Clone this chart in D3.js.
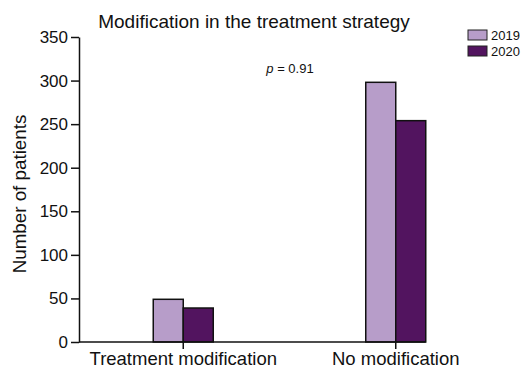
<!DOCTYPE html>
<html><head><meta charset="utf-8">
<script src="https://cdn.jsdelivr.net/npm/d3@7"></script>
<style>body{margin:0;background:#fff}svg{display:block}text{font-family:"Liberation Sans",Arial,sans-serif;fill:#111}</style>
</head><body><svg id="c" width="523" height="371"></svg>
<script>
const categories = ["Treatment modification", "No modification"];
const seriesNames = ["2019", "2020"];
const values2019 = [49, 298];
const values2020 = [39, 254];
const yTicks = [0, 50, 100, 150, 200, 250, 300, 350];
const colors = ["#b79dc9", "#52145f"];

const svg = d3.select("#c");
const x0 = 79, yBase = 342, yTop = 37;
const y = d3.scaleLinear().domain([0, 350]).range([yBase, yTop]);
const x = d3.scaleBand().domain(categories).range([77, 502]).paddingInner(0);
const barW = 30;
const xs = d3.scaleBand().domain(seriesNames).range([-barW, barW]);

const data = categories.map((c, i) => ({c, vals: [values2019[i], values2020[i]]}));

const g = svg.append("g");
data.forEach(d => {
  d.vals.forEach((v, j) => {
    g.append("rect")
      .attr("x", x(d.c) + x.bandwidth() / 2 + xs(seriesNames[j]))
      .attr("y", y(v))
      .attr("width", xs.bandwidth())
      .attr("height", y(0) - y(v))
      .attr("fill", colors[j])
      .attr("stroke", "#111").attr("stroke-width", 1.5);
  });
});

// y axis
const ya = svg.append("g").attr("transform", `translate(${x0},0)`)
  .call(d3.axisLeft(y).tickValues(yTicks).tickSize(8).tickSizeOuter(0).tickPadding(3));
ya.selectAll("text").style("font-size", "17px").attr("fill", "#111");
ya.selectAll("line,path").attr("stroke", "#111").attr("stroke-width", 1.5);

// x axis
const lastRight = x(categories[categories.length - 1]) + x.bandwidth() / 2 + barW;
const xa = svg.append("g").attr("transform", `translate(0,${yBase})`)
  .call(d3.axisBottom(x).tickSize(7).tickSizeOuter(0).tickPadding(3));
xa.select(".domain").remove();
xa.append("line").attr("x1", x0).attr("x2", lastRight).attr("stroke", "#111").attr("stroke-width", 1.5);
xa.selectAll("text").style("font-size", "18.5px").attr("fill", "#111");
xa.selectAll(".tick line").attr("stroke", "#111").attr("stroke-width", 1.5);

// titles
svg.append("text").attr("x", 254).attr("y", 28).attr("text-anchor", "middle")
  .style("font-size", "19px").text("Modification in the treatment strategy");
svg.append("text").attr("transform", `translate(26,194) rotate(-90)`).attr("text-anchor", "middle")
  .style("font-size", "18.8px").text("Number of patients");

const pt = svg.append("text").attr("x", 290).attr("y", 73).attr("text-anchor", "middle").style("font-size", "13px");
pt.append("tspan").style("font-style", "italic").text("p");
pt.append("tspan").text(" = 0.91");

// legend
seriesNames.forEach((s, j) => {
  const ly = 30 + j * 16;
  svg.append("rect").attr("x", 468).attr("y", ly).attr("width", 19).attr("height", 10)
    .attr("fill", colors[j]).attr("stroke", "#222").attr("stroke-width", 1);
  svg.append("text").attr("x", 491).attr("y", ly + 10).style("font-size", "13px").text(s);
});
</script></body></html>
